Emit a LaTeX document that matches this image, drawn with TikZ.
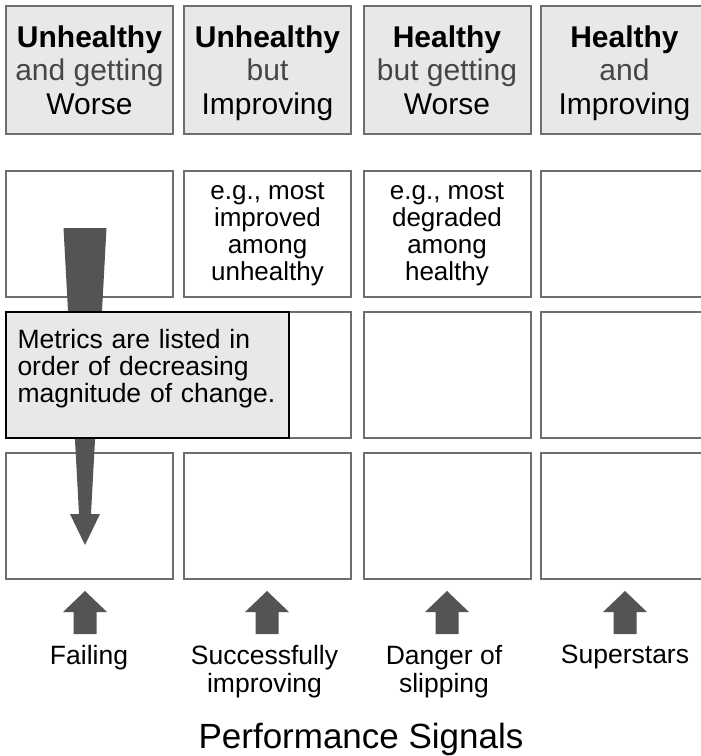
\documentclass[tikz,border=0pt]{standalone}
\usepackage{fontspec}
\setmainfont{Liberation Sans}
\usetikzlibrary{positioning}
\definecolor{boxline}{RGB}{110,110,110}
\definecolor{headfill}{RGB}{232,232,232}
\definecolor{arrowfill}{RGB}{84,84,84}
\definecolor{softtext}{RGB}{70,70,70}

\begin{document}
\begin{tikzpicture}[
    x=1pt, y=-1pt,
    cell/.style={draw=boxline, line width=2pt, fill=white,
                 minimum width=167pt, minimum height=126pt, inner sep=0pt,
                 align=center, font=\fontsize{26}{27}\selectfont},
    head/.style={cell, fill=headfill, minimum height=128pt,
                 text height=88pt, text depth=0pt,
                 font=\fontsize{30}{33.5}\selectfont},
    note/.style={draw=black, line width=2pt, fill=headfill,
                 minimum width=283pt, minimum height=126pt, text width=260pt,
                 text depth=73pt, align=left, inner sep=0pt,
                 font=\fontsize{26.5}{27}\selectfont},
    signal/.style={anchor=north, align=center, inner sep=0pt,
                   font=\fontsize{26.5}{28}\selectfont}
  ]
  \clip (0,0) rectangle (701,756);

  % Header row
  \node[head] (h1) at (89.5,70)  {\textbf{Unhealthy}\\{\color{softtext}and getting}\\Worse};
  \node[head] (h2) at (267.5,70) {\textbf{Unhealthy}\\{\color{softtext}but}\\Improving};
  \node[head] (h3) at (447,70)   {\textbf{Healthy}\\{\color{softtext}but getting}\\Worse};
  \node[head] (h4) at (624.5,70) {\textbf{Healthy}\\{\color{softtext}and}\\Improving};

  % First row of cells
  \node[cell] (c11) at (89.5,234)  {};
  \node[cell] (c12) at (267.5,234) {e.g., most\\improved\\among\\unhealthy};
  \node[cell] (c13) at (447,234)   {e.g., most\\degraded\\among\\healthy};
  \node[cell] (c14) at (624.5,234) {};

  % Other rows
  \foreach \c/\x in {1/89.5, 2/267.5, 3/447, 4/624.5} {
    \node[cell] (c2\c) at (\x,375)   {};
    \node[cell] (c3\c) at (\x,515.5) {};
  }

  % Long arrow behind the note
  \fill[arrowfill] (63.5,228) -- (106.5,228) -- (91,514) -- (100,514)
    -- (85,545) -- (70,514) -- (79,514) -- cycle;

  % Note
  \node[note] (note) at (147.5,375)
    {Metrics are listed in\\order of decreasing\\magnitude of change.};

  % Signals
  \foreach \x/\lx/\lbl/\name in {85/89/Failing/fail, 267/264.5/{Successfully\\improving}/succ,
                                 447/444/{Danger of\\slipping}/dang, 625/625/Superstars/star} {
    \fill[arrowfill] (\x-11.5,634) -- (\x-11.5,612) -- (\x-22,612) -- (\x,591)
      -- (\x+22,612) -- (\x+11.5,612) -- (\x+11.5,634) -- cycle;
    \node[signal] (\name) at (\lx,645) {\lbl};
  }

  \node[font=\fontsize{35}{40}\selectfont] (title) at (361,739) {Performance Signals};
\end{tikzpicture}
\end{document}
